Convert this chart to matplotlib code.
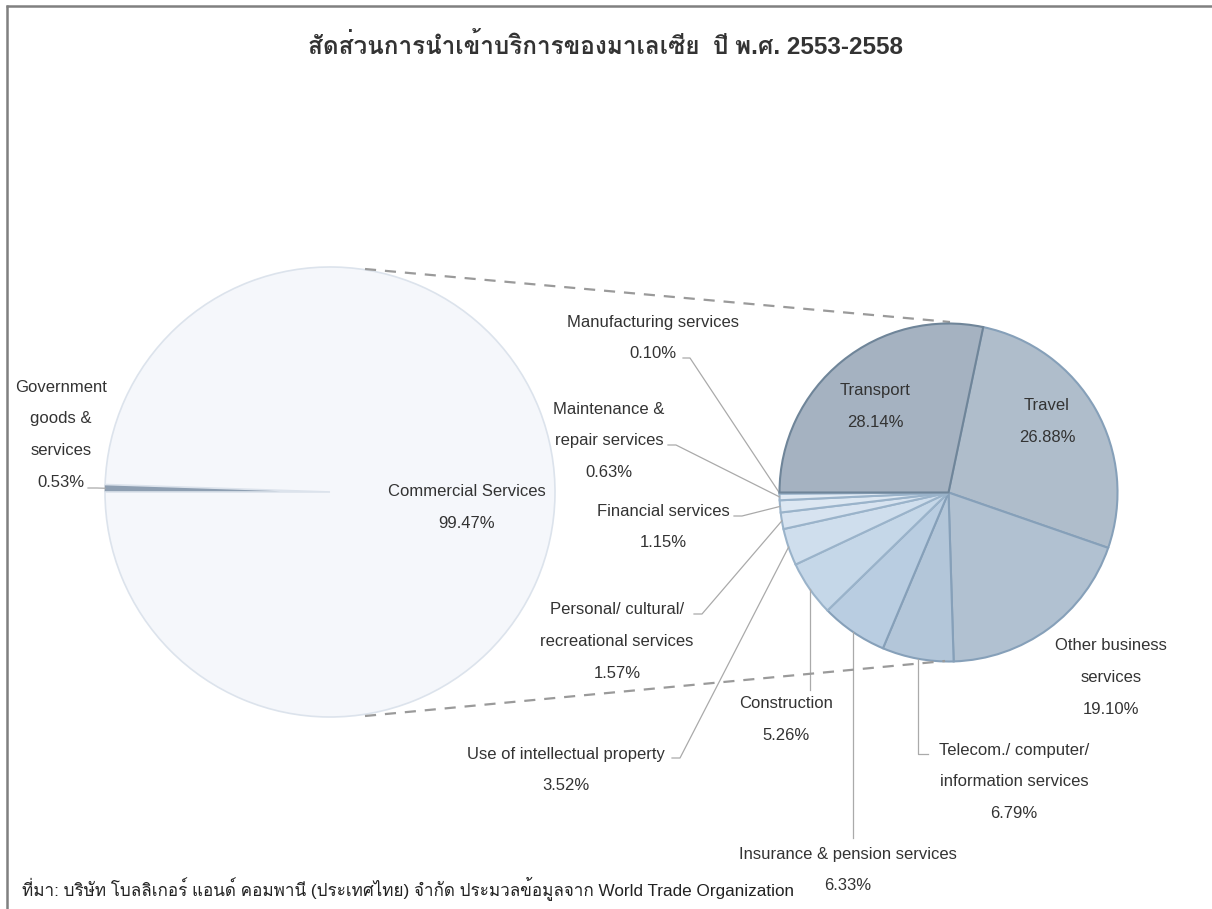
import numpy as np
import matplotlib
matplotlib.use('Agg')
import matplotlib.pyplot as plt

plt.rcParams['font.family'] = ['Liberation Sans', 'Loma', 'Sarabun', 'DejaVu Sans']

# ข้อมูล (สัดส่วน % ของการนำเข้าบริการทั้งหมด)
main_labels = ['Government goods & services', 'Commercial Services']
main_values = [0.53, 99.47]

sub_labels = ['Transport', 'Travel', 'Other business services',
              'Telecom./ computer/ information services', 'Insurance & pension services',
              'Construction', 'Use of intellectual property',
              'Personal/ cultural/ recreational services', 'Financial services',
              'Maintenance & repair services', 'Manufacturing services']
sub_values = [28.14, 26.88, 19.10, 6.79, 6.33, 5.26, 3.52, 1.57, 1.15, 0.63, 0.10]

title = 'สัดส่วนการนำเข้าบริการของมาเลเซีย  ปี พ.ศ. 2553-2558'
source = 'ที่มา: บริษัท โบลลิเกอร์ แอนด์ คอมพานี (ประเทศไทย) จำกัด ประมวลข้อมูลจาก World Trade Organization'

W, H = 1212, 909
TXT = '#333333'


def Y(y):
    # พิกัดพิกเซลจากด้านบน -> พิกัดของแกน
    return H - y


fig = plt.figure(figsize=(W / 100, H / 100), dpi=100)
ax = fig.add_axes([0, 0, 1, 1])

# วงกลมใหญ่
c1, r1 = (330, Y(492)), 225
w1, _ = ax.pie(main_values, center=c1, radius=r1, startangle=180, counterclock=False,
               colors=['#8e9fb2', '#f5f7fb'],
               wedgeprops=dict(edgecolor='#dce3ec', linewidth=1.2))
w1[0].set_edgecolor('#8798ab')
w1[0].set_linewidth(0.6)

# วงกลมเล็ก
c2, r2 = (948.5, Y(492.5)), 169
sub_colors = ['#a5b2c1', '#afbdcb', '#b1c1d1', '#b3c6d9', '#b9cde1', '#c5d7e8',
              '#cfdeed', '#d7e3f0', '#dce7f2', '#e1eaf4', '#e7eef6']
sub_edges = ['#6f8599'] + ['#86a0b9'] * 4 + ['#9ab3ca'] * 6
w2, _ = ax.pie(sub_values, center=c2, radius=r2, startangle=180, counterclock=False,
               colors=sub_colors, wedgeprops=dict(linewidth=1.5))
for w, ec in zip(w2, sub_edges):
    w.set_edgecolor(ec)
w2[0].set_zorder(3)

# pie() เปลี่ยนขอบเขตแกน จึงตั้งใหม่หลังวาด
ax.set_xlim(0, W)
ax.set_ylim(0, H)
ax.axis('off')

# กรอบด้านบนและด้านซ้าย
ax.plot([6, W], [Y(6), Y(6)], color='#808080', lw=1.8, solid_capstyle='butt', clip_on=False)
ax.plot([6.5, 6.5], [Y(5), 0], color='#808080', lw=1.8, solid_capstyle='butt', clip_on=False)

# เส้นประเชื่อมวงกลม
ax.plot([365, 950], [Y(269), Y(322)], color='#9a9a9a', lw=1.6, ls=(0, (5, 4)))
ax.plot([365, 945], [Y(716), Y(661)], color='#9a9a9a', lw=1.6, ls=(0, (5, 4)))


def edge_point(w):
    mid = np.deg2rad((w.theta1 + w.theta2) / 2)
    return w.center[0] + w.r * np.cos(mid), w.center[1] + w.r * np.sin(mid)


def put(lines, x, y, step=31.7):
    for i, s in enumerate(lines):
        ax.text(x, Y(y + i * step), s, ha='center', va='center', fontsize=12, color=TXT)


# ป้ายกำกับ
put(['Transport', '28.14%'], 875, 391)
put(['Travel', '26.88%'], 1047, 406)
put(['Other business', 'services', '19.10%'], 1111, 646)
put(['Telecom./ computer/', 'information services', '6.79%'], 1014, 750)
put(['Insurance & pension services', '6.33%'], 848, 854)
put(['Construction', '5.26%'], 786, 704)
put(['Use of intellectual property', '3.52%'], 566, 754)
put(['Personal/ cultural/', 'recreational services', '1.57%'], 617, 610)
put(['Financial services', '1.15%'], 663, 511)
put(['Maintenance &', 'repair services', '0.63%'], 609, 409)
put(['Manufacturing services', '0.10%'], 653, 322)
put(['Commercial Services', '99.47%'], 467, 492)
put(['Government', 'goods &', 'services', '0.53%'], 61, 387)

# เส้นชี้
lc = dict(color='#aaaaaa', lw=0.9)


def leader(w, pts):
    ex, ey = edge_point(w)
    xs = [p[0] for p in pts] + [ex]
    ys = [Y(p[1]) for p in pts] + [ey]
    ax.plot(xs, ys, zorder=1, **lc)


leader(w2[10], [(683, 358), (690, 358)])
leader(w2[9], [(668, 445), (676, 445)])
leader(w2[8], [(734, 516), (742, 516)])
leader(w2[7], [(694, 614), (702, 614)])
leader(w2[6], [(672, 758), (680, 758)])
ex, ey = edge_point(w2[5])
ax.plot([ex, ex], [Y(690), ey], zorder=1, **lc)
ex, ey = edge_point(w2[4])
ax.plot([ex, ex], [Y(838), ey], zorder=1, **lc)
ex, ey = edge_point(w2[3])
ax.plot([928, ex, ex], [Y(754), Y(754), ey], zorder=1, **lc)
leader(w1[0], [(88, 488), (97, 488)])

# ชื่อกราฟและที่มา
ax.text(605, Y(46), title, ha='center', va='center', fontsize=17.5, fontweight='bold', color=TXT)
ax.text(22, Y(888), source, ha='left', va='center', fontsize=12.3, color='#222222')

plt.savefig('out.png', dpi=100)
plt.close()
